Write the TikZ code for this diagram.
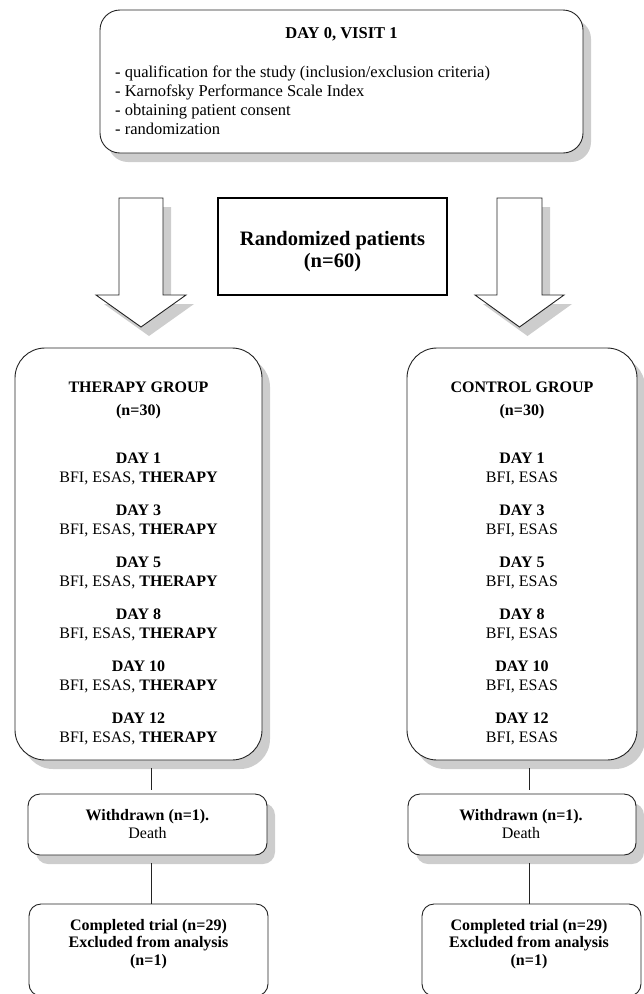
\documentclass[tikz,border=0pt]{standalone}
\usepackage{fontspec}
\setmainfont{Liberation Serif}
\usetikzlibrary{shadows}
\definecolor{shadowgray}{RGB}{205,205,205}
\definecolor{linecol}{RGB}{35,35,35}
\begin{document}
\begin{tikzpicture}[x=1pt,y=-1pt,
  shad/.style={drop shadow={shadow xshift=8pt,shadow yshift=-9pt,fill=shadowgray,opacity=1}},
  rbox/.style={draw=linecol,line width=0.9pt,fill=white,inner sep=0pt},
  arrowst/.style={draw=linecol,line width=0.9pt,fill=white,line join=miter,shad},
  conn/.style={draw=linecol,line width=0.9pt},
  txt/.style={inner sep=0pt,anchor=base,font=\fontsize{16}{19}\selectfont},
  btxt/.style={txt,font=\fontsize{16}{19}\selectfont\bfseries},
  ttop/.style={inner sep=0pt,anchor=base west,font=\fontsize{16.5}{19}\selectfont},
  btop/.style={inner sep=0pt,anchor=base,font=\fontsize{16.5}{19}\selectfont\bfseries},
  bbig/.style={inner sep=0pt,anchor=base,font=\fontsize{20.5}{23}\selectfont\bfseries}]
\useasboundingbox (0,0) rectangle (644,994);
\clip (0,0) rectangle (644,994);

% top box
\node[rbox,shad,rounded corners=20pt,minimum width=483pt,minimum height=143pt] (top) at (341.5,81.5) {};
\node[btop] (t0) at (341.5,38) {DAY 0, VISIT 1};
\node[ttop] (t1) at (115,77) {- qualification for the study (inclusion/exclusion criteria)};
\node[ttop] (t2) at (115,96) {- Karnofsky Performance Scale Index};
\node[ttop] (t3) at (115,115) {- obtaining patient consent};
\node[ttop] (t4) at (115,134) {- randomization};

% block arrows
\draw[arrowst] (119,198) -- (163,198) -- (163,295) -- (186,295) -- (141,327) -- (96,295) -- (119,295) -- cycle;
\draw[arrowst] (497,198) -- (542,198) -- (542,295) -- (564,295) -- (519.5,327) -- (475,295) -- (497,295) -- cycle;

% randomized box
\node[draw=black,line width=2.5pt,fill=white,inner sep=0pt,minimum width=229pt,minimum height=97pt] (rand) at (332.5,246.5) {};
\node[bbig] (r1) at (332.5,245) {Randomized patients};
\node[bbig] (r2) at (332.5,267) {(n=60)};

% group boxes
\node[rbox,shad,rounded corners=30pt,minimum width=247pt,minimum height=412pt] (ther) at (138.5,554) {};
\node[rbox,shad,rounded corners=30pt,minimum width=230pt,minimum height=412pt] (ctrl) at (522,554) {};

\node[btxt] (th1) at (138.5,392) {THERAPY GROUP};
\node[btxt] (th2) at (138.5,415) {(n=30)};
\node[btxt] (ch1) at (522,392) {CONTROL GROUP};
\node[btxt] (ch2) at (522,415) {(n=30)};
\foreach \d [count=\i from 0] in {1,3,5,8,10,12}{
  \node[btxt] (td\d) at (138.5,{463+52*\i}) {DAY \d};
  \node[txt] (tb\d) at (138.5,{482.5+52*\i}) {BFI, ESAS, \textbf{THERAPY}};
  \node[btxt] (cd\d) at (522,{463+52*\i}) {DAY \d};
  \node[txt] (cb\d) at (522,{482.5+52*\i}) {BFI, ESAS};
}

% withdrawn boxes
\node[rbox,shad,rounded corners=12pt,minimum width=239pt,minimum height=61pt] (wl) at (147.5,824.5) {};
\node[rbox,shad,rounded corners=12pt,minimum width=228pt,minimum height=61pt] (wr) at (522,824.5) {};
\node[btxt] (wl1) at (147.5,820) {Withdrawn (n=1).};
\node[txt] (wl2) at (147.5,838) {Death};
\node[btxt] (wr1) at (521,820) {Withdrawn (n=1).};
\node[txt] (wr2) at (521,838) {Death};

% completed boxes
\node[rbox,rounded corners=12pt,minimum width=239pt,minimum height=92pt] (cl) at (148.5,950) {};
\node[rbox,rounded corners=12pt,minimum width=219pt,minimum height=92pt] (cr) at (531.5,950) {};
\node[btxt] (cl1) at (148.5,930) {Completed trial (n=29)};
\node[btxt] (cl2) at (148.5,947.5) {Excluded from analysis};
\node[btxt] (cl3) at (148.5,965) {(n=1)};
\node[btxt] (cr1) at (529,930) {Completed trial (n=29)};
\node[btxt] (cr2) at (529,947.5) {Excluded from analysis};
\node[btxt] (cr3) at (529,965) {(n=1)};

% connectors
\coordinate (lc) at (151,0);
\coordinate (rc) at (529,0);
\draw[conn,shorten <=8pt,shorten >=4pt] (ther.south -| lc) -- (wl.north -| lc);
\draw[conn,shorten <=8pt] (wl.south -| lc) -- (cl.north -| lc);
\draw[conn,shorten <=8pt,shorten >=4pt] (ctrl.south -| rc) -- (wr.north -| rc);
\draw[conn,shorten <=8pt] (wr.south -| rc) -- (cr.north -| rc);
\end{tikzpicture}
\end{document}
